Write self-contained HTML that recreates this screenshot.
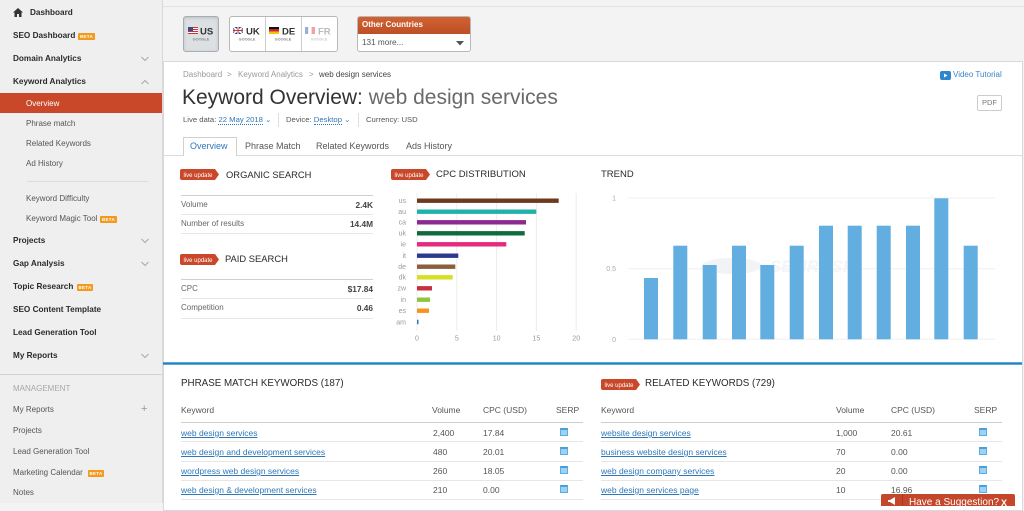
<!DOCTYPE html>
<html><head><meta charset="utf-8">
<style>
*{margin:0;padding:0;box-sizing:border-box}
body{width:1024px;height:503px;overflow:hidden;position:relative;background:#f3f3f3;font-family:"Liberation Sans",Arial,sans-serif;color:#333}
.t{position:absolute;white-space:nowrap;line-height:10px}
.sb{font-size:8.2px;font-weight:bold;color:#2b2b2b}
.sn{font-size:8px;color:#555}
.beta{position:absolute;height:7px;background:#f39a1e;color:#fff;font-size:4.5px;line-height:7px;text-align:center;font-weight:bold;border-radius:1px;letter-spacing:.3px}
.hl{position:absolute;height:1px;background:#e6e6e6}
.lk{color:#2f78b8;text-decoration:underline;font-size:8.5px}
.tv{color:#555;font-size:8.5px}
.th{color:#555;font-size:8.5px}
.serp{position:absolute;width:8px;height:8px;background:#9dd2f2;border:1px solid #5aaee2;border-top:2px solid #4a9fd8}
.bl{color:#2f78b8}
</style></head><body>

<!-- sidebar -->
<div style="position:absolute;left:0;top:0;width:163px;height:503px;background:#efefef;border-right:1px solid #d9d9d9"></div>
<svg style="position:absolute;left:13px;top:8px" width="10" height="9"><path d="M5,0 L10,4.5 L8.5,4.5 L8.5,9 L6,9 L6,6 L4,6 L4,9 L1.5,9 L1.5,4.5 L0,4.5 Z" fill="#333"/></svg>
<div class="t sb" style="left:30px;top:8px">Dashboard</div>
<div class="t sb" style="left:13px;top:31px">SEO Dashboard</div><div class="beta" style="left:78px;top:33px;width:17px">BETA</div>
<div class="t sb" style="left:13px;top:54px">Domain Analytics</div>
<div class="t sb" style="left:13px;top:77px">Keyword Analytics</div>
<div style="position:absolute;left:0;top:93px;width:162px;height:20px;background:#c9482a"></div>
<div class="t sn" style="left:26px;top:99px;color:#fff">Overview</div>
<div class="t sn" style="left:26px;top:119px">Phrase match</div>
<div class="t sn" style="left:26px;top:139px">Related Keywords</div>
<div class="t sn" style="left:26px;top:159px">Ad History</div>
<div class="hl" style="left:27px;top:181px;width:121px;background:#dcdcdc"></div>
<div class="t sn" style="left:26px;top:194px">Keyword Difficulty</div>
<div class="t sn" style="left:26px;top:214px">Keyword Magic Tool</div><div class="beta" style="left:100px;top:216px;width:17px">BETA</div>
<div class="t sb" style="left:13px;top:236px">Projects</div>
<div class="t sb" style="left:13px;top:259px">Gap Analysis</div>
<div class="t sb" style="left:13px;top:282px">Topic Research</div><div class="beta" style="left:77px;top:284px;width:16px">BETA</div>
<div class="t sb" style="left:13px;top:305px">SEO Content Template</div>
<div class="t sb" style="left:13px;top:328px">Lead Generation Tool</div>
<div class="t sb" style="left:13px;top:351px">My Reports</div>
<div class="hl" style="left:0;top:374px;width:162px;background:#d2d2d2"></div>
<div class="t" style="left:13px;top:384px;font-size:8px;color:#a8a8a8">MANAGEMENT</div>
<div class="t sn" style="left:13px;top:405px">My Reports</div>
<div class="t" style="left:141px;top:404px;font-size:11px;color:#999">+</div>
<div class="t sn" style="left:13px;top:426px">Projects</div>
<div class="t sn" style="left:13px;top:447px">Lead Generation Tool</div>
<div class="t sn" style="left:13px;top:468px">Marketing Calendar</div><div class="beta" style="left:88px;top:470px;width:16px">BETA</div>
<div class="t sn" style="left:13px;top:488px">Notes</div>
<svg style="position:absolute;left:0;top:0" width="163" height="503">
<g fill="none" stroke="#a9a9a9" stroke-width="1">
<polyline points="141.5,57 145,60.5 148.5,57"/>
<polyline points="141.5,84 145,80.5 148.5,84"/>
<polyline points="141.5,239 145,242.5 148.5,239"/>
<polyline points="141.5,262 145,265.5 148.5,262"/>
<polyline points="141.5,354 145,357.5 148.5,354"/>
</g></svg>

<!-- top bar -->
<div style="position:absolute;left:163px;top:6px;width:861px;height:1px;background:#e2e2e2"></div>
<div style="position:absolute;left:183px;top:16px;width:36px;height:36px;background:#dde0e3;border:1px solid #a7adb3;border-radius:3px;box-shadow:inset 0 1px 3px rgba(0,0,0,.15)"></div>
<div style="position:absolute;left:229px;top:16px;width:109px;height:36px;background:#fff;border:1px solid #b8b8b8;border-radius:3px"></div>
<div style="position:absolute;left:265px;top:17px;width:1px;height:34px;background:#ccc"></div>
<div style="position:absolute;left:301px;top:17px;width:1px;height:34px;background:#ccc"></div>
<svg style="position:absolute;left:0;top:0" width="480" height="60">
<rect x="188" y="27" width="10" height="7" fill="#c33"/>
<rect x="188" y="28" width="10" height="1" fill="#fff"/><rect x="188" y="30" width="10" height="1" fill="#fff"/><rect x="188" y="32" width="10" height="1" fill="#fff"/>
<rect x="188" y="27" width="5" height="4" fill="#3b4a8c"/>
<rect x="233" y="27" width="10" height="7" fill="#2b3f8c"/>
<path d="M233,27 L243,34 M243,27 L233,34" stroke="#fff" stroke-width="1.5"/>
<rect x="237" y="27" width="2" height="7" fill="#fff"/><rect x="233" y="29.5" width="10" height="2" fill="#fff"/>
<rect x="237.5" y="27" width="1" height="7" fill="#c33"/><rect x="233" y="30" width="10" height="1" fill="#c33"/>
<rect x="269" y="27" width="10" height="2.4" fill="#111"/><rect x="269" y="29.4" width="10" height="2.3" fill="#d22"/><rect x="269" y="31.7" width="10" height="2.3" fill="#f5c400"/>
<g opacity=".45"><rect x="305" y="27" width="3.3" height="7" fill="#2b4aa8"/><rect x="308.3" y="27" width="3.3" height="7" fill="#fff"/><rect x="311.6" y="27" width="3.4" height="7" fill="#d33"/></g>
<g font-family="Liberation Sans, Arial, sans-serif" font-weight="bold">
<text x="200" y="34.5" font-size="9.5" fill="#333">US</text>
<text x="246" y="34.5" font-size="9.5" fill="#333">UK</text>
<text x="282" y="34.5" font-size="9.5" fill="#333">DE</text>
<text x="318" y="34.5" font-size="9.5" fill="#bbb">FR</text>
<text x="201" y="40.5" font-size="3.8" fill="#888" text-anchor="middle">GOOGLE</text>
<text x="247" y="40.5" font-size="3.8" fill="#888" text-anchor="middle">GOOGLE</text>
<text x="283" y="40.5" font-size="3.8" fill="#888" text-anchor="middle">GOOGLE</text>
<text x="319" y="40.5" font-size="3.8" fill="#ccc" text-anchor="middle">GOOGLE</text>
</g>
</svg>
<div style="position:absolute;left:357px;top:16px;width:114px;height:36px;background:#fff;border:1px solid #b8b8b8;border-radius:3px;overflow:hidden">
<div style="height:17px;background:linear-gradient(#cf6232,#bf4f25)"></div></div>
<div class="t" style="left:362px;top:20px;font-size:8px;font-weight:bold;color:#fff">Other Countries</div>
<div class="t" style="left:362px;top:38px;font-size:8.2px;color:#555">131 more...</div>
<svg style="position:absolute;left:456px;top:41px" width="8" height="5"><path d="M0,0 L8,0 L4,4.5 Z" fill="#555"/></svg>

<!-- content panel -->
<div style="position:absolute;left:163px;top:61px;width:860px;height:450px;background:#fff;border:1px solid #d9d9d9"></div>

<div class="t" style="left:183px;top:70px;font-size:8px;color:#9a9a9a">Dashboard</div>
<div class="t" style="left:227px;top:70px;font-size:8px;color:#9a9a9a">&gt;</div>
<div class="t" style="left:238px;top:70px;font-size:8px;color:#9a9a9a">Keyword Analytics</div>
<div class="t" style="left:309px;top:70px;font-size:8px;color:#9a9a9a">&gt;</div>
<div class="t" style="left:319px;top:70px;font-size:8px;color:#444">web design services</div>
<div class="t" style="left:182px;top:86px;font-size:21px;line-height:24px;color:#333">Keyword Overview: <span style="color:#6a6a6a">web design services</span></div>

<div class="t" style="left:183px;top:115px;font-size:7.7px;color:#555">Live data: <span class="bl" style="border-bottom:1px dotted #2f78b8">22 May 2018</span><span class="bl"> ⌄</span></div>
<div style="position:absolute;left:278px;top:113px;width:1px;height:14px;background:#ddd"></div>
<div class="t" style="left:286px;top:115px;font-size:7.7px;color:#555">Device: <span class="bl" style="border-bottom:1px dotted #2f78b8">Desktop</span><span class="bl"> ⌄</span></div>
<div style="position:absolute;left:358px;top:113px;width:1px;height:14px;background:#ddd"></div>
<div class="t" style="left:366px;top:115px;font-size:7.7px;color:#555">Currency: USD</div>

<div style="position:absolute;left:163px;top:155px;width:859px;height:1px;background:#dcdcdc"></div>
<div style="position:absolute;left:183px;top:137px;width:54px;height:19px;background:#fff;border:1px solid #d0d0d0;border-bottom:none"></div>
<div class="t" style="left:190px;top:141px;font-size:9px;color:#2f78b8">Overview</div>
<div class="t" style="left:245px;top:141px;font-size:9px;color:#555">Phrase Match</div>
<div class="t" style="left:316px;top:141px;font-size:9px;color:#555">Related Keywords</div>
<div class="t" style="left:406px;top:141px;font-size:9px;color:#555">Ads History</div>

<svg style="position:absolute;left:940px;top:71px" width="11" height="9"><rect width="11" height="9" rx="2" fill="#2f86cc"/><path d="M4,2.5 L7.5,4.5 L4,6.5 Z" fill="#fff"/></svg>
<div class="t" style="left:953px;top:70px;font-size:8px;color:#3a86c8">Video Tutorial</div>
<div style="position:absolute;left:977px;top:95px;width:25px;height:16px;border:1px solid #ccc;border-radius:2px;background:#fff"></div>
<div class="t" style="left:982px;top:98px;font-size:7.5px;color:#777">PDF</div>

<!-- organic / paid -->
<div class="t" style="left:226px;top:170px;font-size:9.4px;color:#2a2a2a">ORGANIC SEARCH</div>
<div class="hl" style="left:181px;top:195px;width:192px;background:#cfcfcf"></div>
<div class="t" style="left:181px;top:200px;font-size:8px;color:#666">Volume</div>
<div class="t" style="right:651px;top:200px;font-size:8.3px;font-weight:bold;color:#444">2.4K</div>
<div class="hl" style="left:181px;top:214px;width:192px"></div>
<div class="t" style="left:181px;top:219px;font-size:8px;color:#666">Number of results</div>
<div class="t" style="right:651px;top:219px;font-size:8.3px;font-weight:bold;color:#444">14.4M</div>
<div class="hl" style="left:181px;top:233px;width:192px"></div>

<div class="t" style="left:225px;top:254px;font-size:9.4px;color:#2a2a2a">PAID SEARCH</div>
<div class="hl" style="left:181px;top:279px;width:192px;background:#cfcfcf"></div>
<div class="t" style="left:181px;top:284px;font-size:8px;color:#666">CPC</div>
<div class="t" style="right:651px;top:284px;font-size:8.3px;font-weight:bold;color:#444">$17.84</div>
<div class="hl" style="left:181px;top:298px;width:192px"></div>
<div class="t" style="left:181px;top:303px;font-size:8px;color:#666">Competition</div>
<div class="t" style="right:651px;top:303px;font-size:8.3px;font-weight:bold;color:#444">0.46</div>
<div class="hl" style="left:181px;top:318px;width:192px"></div>

<div class="t" style="left:436px;top:170px;font-size:9.5px;color:#2a2a2a">CPC DISTRIBUTION</div>
<div class="t" style="left:601px;top:170px;font-size:9.5px;color:#2a2a2a">TREND</div>

<svg style="position:absolute;left:0;top:0" width="1024" height="503" font-family="Liberation Sans, Arial, sans-serif">
<g fill="#c9482a">
<path d="M182,169 H215 L219,174.5 L215,180 H182 Q180,180 180,178 V171 Q180,169 182,169 Z"/>
<path d="M182,254 H215 L219,259.5 L215,265 H182 Q180,265 180,263 V256 Q180,254 182,254 Z"/>
<path d="M393,169 H426 L430,174.5 L426,180 H393 Q391,180 391,178 V171 Q391,169 393,169 Z"/>
<path d="M603,379 H636 L640,384.5 L636,390 H603 Q601,390 601,388 V381 Q601,379 603,379 Z"/>
</g>
<g fill="#fff" font-size="6">
<text x="183.5" y="176.8">live update</text>
<text x="183.5" y="261.8">live update</text>
<text x="394.5" y="176.8">live update</text>
<text x="604.5" y="386.8">live update</text>
</g>
<g stroke="#ececec" stroke-width="1">
<line x1="417" y1="193" x2="417" y2="331"/><line x1="456.8" y1="193" x2="456.8" y2="331"/><line x1="496.6" y1="193" x2="496.6" y2="331"/><line x1="536.4" y1="193" x2="536.4" y2="331"/><line x1="576.2" y1="193" x2="576.2" y2="331"/>
</g>
<rect x="417" y="198.5" width="141.7" height="4.4" fill="#6e3a1d"/>
<rect x="417" y="209.5" width="119.3" height="4.4" fill="#20b2aa"/>
<rect x="417" y="220.1" width="109" height="4.4" fill="#8b2a8f"/>
<rect x="417" y="231.1" width="107.7" height="4.4" fill="#0e6b3b"/>
<rect x="417" y="242.1" width="89.3" height="4.4" fill="#e62a7d"/>
<rect x="417" y="253.5" width="41.3" height="4.4" fill="#2b3990"/>
<rect x="417" y="264.5" width="38.3" height="4.4" fill="#8b5e3c"/>
<rect x="417" y="275.1" width="35.7" height="4.4" fill="#d7df23"/>
<rect x="417" y="286.1" width="15" height="4.4" fill="#c8313b"/>
<rect x="417" y="297.5" width="13" height="4.4" fill="#8cc63f"/>
<rect x="417" y="308.5" width="12" height="4.4" fill="#f7941d"/>
<rect x="417" y="319.8" width="1.5" height="4.4" fill="#2a7ab5"/>
<g fill="#9a9a9a" font-size="7" text-anchor="end">
<text x="406" y="203">us</text><text x="406" y="214">au</text><text x="406" y="224.6">ca</text><text x="406" y="235.6">uk</text><text x="406" y="246.6">ie</text><text x="406" y="258">it</text><text x="406" y="269">de</text><text x="406" y="279.6">dk</text><text x="406" y="290.6">zw</text><text x="406" y="302">in</text><text x="406" y="313">es</text><text x="406" y="324.3">am</text>
</g>
<g fill="#9a9a9a" font-size="7" text-anchor="middle">
<text x="417" y="340.3">0</text><text x="456.8" y="340.3">5</text><text x="496.6" y="340.3">10</text><text x="536.4" y="340.3">15</text><text x="576.2" y="340.3">20</text>
</g>
<g stroke="#efefef" stroke-width="1">
<line x1="628" y1="198" x2="995" y2="198"/><line x1="628" y1="268.7" x2="995" y2="268.7"/><line x1="628" y1="339.3" x2="995" y2="339.3"/>
</g>
<g fill="#aaa" font-size="7" text-anchor="end">
<text x="616" y="200.5">1</text><text x="616" y="271.2">0.5</text><text x="616" y="341.8">0</text>
</g>
<g fill="#f1f3f5"><ellipse cx="732" cy="266" rx="30" ry="8"/></g>
<text x="770" y="272" font-size="17" font-weight="bold" fill="#f3f5f7" font-style="italic">SEMRUSH</text>
<g fill="#62aee0">
<rect x="644" y="278" width="14" height="61.3"/>
<rect x="673.3" y="245.7" width="14" height="93.6"/>
<rect x="702.7" y="265" width="14" height="74.3"/>
<rect x="732" y="245.7" width="14" height="93.6"/>
<rect x="760.3" y="265" width="14" height="74.3"/>
<rect x="789.7" y="245.7" width="14" height="93.6"/>
<rect x="819" y="225.7" width="14" height="113.6"/>
<rect x="847.7" y="225.7" width="14" height="113.6"/>
<rect x="876.7" y="225.7" width="14" height="113.6"/>
<rect x="906" y="225.7" width="14" height="113.6"/>
<rect x="934.3" y="198.3" width="14" height="141"/>
<rect x="963.7" y="245.7" width="14" height="93.6"/>
</g>
<rect x="163" y="362.3" width="859" height="2.4" fill="#1c84c6"/>
</svg>

<!-- Phrase match table -->
<div class="t" style="left:181px;top:379px;font-size:9.8px;color:#2a2a2a">PHRASE MATCH KEYWORDS (187)</div>
<div class="t th" style="left:181px;top:405px">Keyword</div>
<div class="t th" style="left:432px;top:405px">Volume</div>
<div class="t th" style="left:483px;top:405px">CPC (USD)</div>
<div class="t th" style="left:556px;top:405px">SERP</div>
<div class="hl" style="left:181px;top:422px;width:402px;background:#cfcfcf"></div>
<div class="t lk" style="left:181px;top:428px">web design services</div>
<div class="t tv" style="left:433px;top:428px">2,400</div><div class="t tv" style="left:483px;top:428px">17.84</div>
<div class="serp" style="left:560px;top:428px"></div>
<div class="hl" style="left:181px;top:441px;width:402px"></div>
<div class="t lk" style="left:181px;top:447px">web design and development services</div>
<div class="t tv" style="left:433px;top:447px">480</div><div class="t tv" style="left:483px;top:447px">20.01</div>
<div class="serp" style="left:560px;top:447px"></div>
<div class="hl" style="left:181px;top:461px;width:402px"></div>
<div class="t lk" style="left:181px;top:466px">wordpress web design services</div>
<div class="t tv" style="left:433px;top:466px">260</div><div class="t tv" style="left:483px;top:466px">18.05</div>
<div class="serp" style="left:560px;top:466px"></div>
<div class="hl" style="left:181px;top:480px;width:402px"></div>
<div class="t lk" style="left:181px;top:485px">web design &amp; development services</div>
<div class="t tv" style="left:433px;top:485px">210</div><div class="t tv" style="left:483px;top:485px">0.00</div>
<div class="serp" style="left:560px;top:485px"></div>
<div class="hl" style="left:181px;top:499px;width:402px"></div>

<!-- Related table -->
<div class="t" style="left:645px;top:379px;font-size:9.8px;color:#2a2a2a">RELATED KEYWORDS (729)</div>
<div class="t th" style="left:601px;top:405px">Keyword</div>
<div class="t th" style="left:836px;top:405px">Volume</div>
<div class="t th" style="left:891px;top:405px">CPC (USD)</div>
<div class="t th" style="left:974px;top:405px">SERP</div>
<div class="hl" style="left:601px;top:422px;width:401px;background:#cfcfcf"></div>
<div class="t lk" style="left:601px;top:428px">website design services</div>
<div class="t tv" style="left:836px;top:428px">1,000</div><div class="t tv" style="left:891px;top:428px">20.61</div>
<div class="serp" style="left:979px;top:428px"></div>
<div class="hl" style="left:601px;top:441px;width:401px"></div>
<div class="t lk" style="left:601px;top:447px">business website design services</div>
<div class="t tv" style="left:836px;top:447px">70</div><div class="t tv" style="left:891px;top:447px">0.00</div>
<div class="serp" style="left:979px;top:447px"></div>
<div class="hl" style="left:601px;top:461px;width:401px"></div>
<div class="t lk" style="left:601px;top:466px">web design company services</div>
<div class="t tv" style="left:836px;top:466px">20</div><div class="t tv" style="left:891px;top:466px">0.00</div>
<div class="serp" style="left:979px;top:466px"></div>
<div class="hl" style="left:601px;top:480px;width:401px"></div>
<div class="t lk" style="left:601px;top:485px">web design services page</div>
<div class="t tv" style="left:836px;top:485px">10</div><div class="t tv" style="left:891px;top:485px">16.96</div>
<div class="serp" style="left:979px;top:485px"></div>
<div class="hl" style="left:601px;top:499px;width:401px"></div>

<!-- suggestion bar -->
<div style="position:absolute;left:881px;top:494px;width:134px;height:12px;background:#c4472b;border-radius:2px 2px 0 0"></div>
<div style="position:absolute;left:902px;top:494px;width:1px;height:12px;background:#a63a22"></div>
<svg style="position:absolute;left:887px;top:497px" width="10" height="8"><path d="M1,3 H3 L8,0 V8 L3,5 H1 Z" fill="#fff"/></svg>
<div class="t" style="left:909px;top:497px;font-size:10px;line-height:12px;color:#fff">Have a Suggestion?</div>
<div class="t" style="left:1001px;top:497px;font-size:9px;line-height:12px;color:#fff;font-weight:bold">X</div>

</body></html>
